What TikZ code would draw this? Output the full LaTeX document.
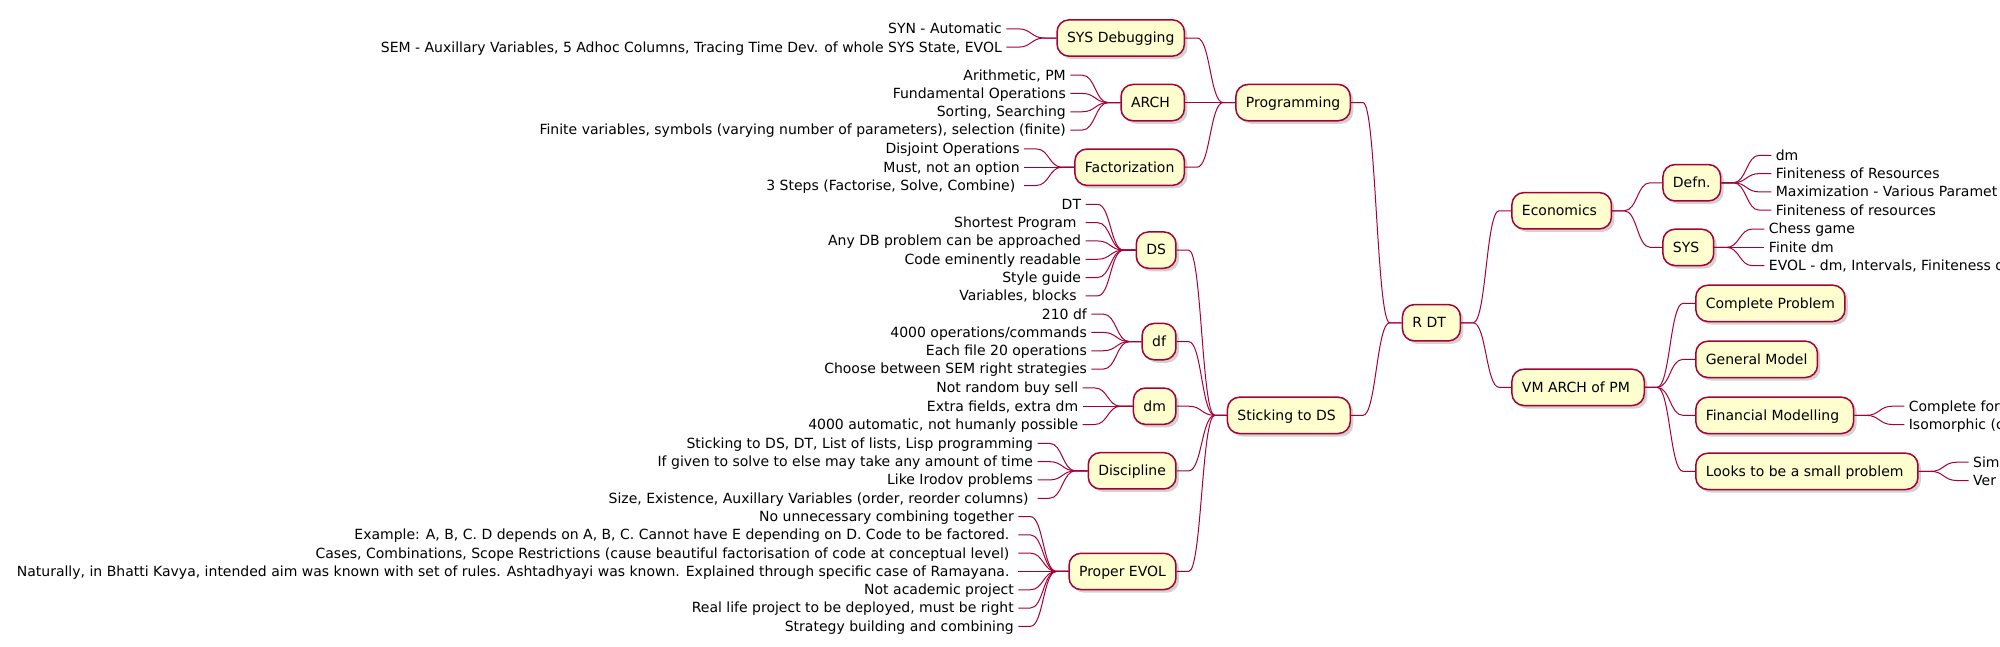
\documentclass[tikz,border=0pt]{standalone}
\usepackage{fontspec}
\setmainfont{DejaVu Sans}
\usetikzlibrary{shadows}
\definecolor{mmred}{HTML}{A80036}
\definecolor{mmyellow}{HTML}{FEFECE}

\begin{document}
\begin{tikzpicture}[x=1pt, y=-1pt,
	topic/.style={draw=mmred, fill=mmyellow, line width=1.5pt, rounded corners=12pt,
		font=\fontsize{14}{16}\selectfont, text height=13pt, text depth=3.3pt,
		inner xsep=10pt, inner ysep=10pt,
		drop shadow={shadow xshift=3pt, shadow yshift=-3pt, opacity=0.25, fill=black!70}},
	leaf/.style={font=\fontsize{14}{16}\selectfont, text height=13pt, text depth=3.3pt,
		inner xsep=4.3pt, inner ysep=0pt},
	branch/.style={draw=mmred, line width=1pt},
	toleft/.style={to path={-- ++(-12,0) .. controls +(-13,0) and +(13,0) .. ([xshift=12pt]\tikztotarget) -- (\tikztotarget)}},
	toright/.style={to path={-- ++(12,0) .. controls +(13,0) and +(-13,0) .. ([xshift=-12pt]\tikztotarget) -- (\tikztotarget)}}]
	\useasboundingbox (0,0) rectangle (2000,646);

	\node[topic, anchor=west] (rdt) at (1401.7,322.75) {R DT\ \null};

	\node[topic, anchor=east, xshift=-50.7pt] (prog) at (rdt.west |- 0,102.6) {Programming};
	\node[topic, anchor=east, xshift=-50.7pt] (stick) at (rdt.west |- 0,415.35) {Sticking to DS\ \null};
	\draw[branch] (rdt.west) to[toleft] (prog.east);
	\draw[branch] (rdt.west) to[toleft] (stick.east);

	\node[topic, anchor=east, xshift=-50pt] (sysdbg) at (prog.west |- 0,38) {SYS Debugging};
	\node[topic, anchor=east, xshift=-50pt] (arch) at (prog.west |- 0,102.6) {ARCH\ \null};
	\node[topic, anchor=east, xshift=-50pt] (fact) at (prog.west |- 0,167.2) {Factorization};
	\foreach \kid in {sysdbg, arch, fact}
		\draw[branch] (prog.west) to[toleft] (\kid.east);

	\node[topic, anchor=east, xshift=-50pt] (ds) at (stick.west |- 0,250.1) {DS};
	\node[topic, anchor=east, xshift=-50pt] (df) at (stick.west |- 0,341.6) {df};
	\node[topic, anchor=east, xshift=-50pt] (dm) at (stick.west |- 0,406.2) {dm};
	\node[topic, anchor=east, xshift=-50pt] (disc) at (stick.west |- 0,470.8) {Discipline};
	\node[topic, anchor=east, xshift=-50pt] (evol) at (stick.west |- 0,571.45) {Proper EVOL};
	\foreach \kid in {ds, df, dm, disc, evol}
		\draw[branch] (stick.west) to[toleft] (\kid.east);

	\foreach \txt [count=\i] in {{SYN - Automatic},
			{SEM - Auxillary Variables, 5 Adhoc Columns, Tracing Time Dev. of whole SYS State, EVOL}} {
		\pgfmathsetmacro\ly{38+(\i-1.5)*18.3}
		\node[leaf, anchor=east, xshift=-50pt] (sysdbg\i) at (sysdbg.west |- 0,\ly) {\txt};
		\draw[branch] (sysdbg.west) to[toleft] (sysdbg\i.east);
	}
	\foreach \txt [count=\i] in {{Arithmetic, PM}, {Fundamental Operations}, {Sorting, Searching},
			{Finite variables, symbols (varying number of parameters), selection (finite)}} {
		\pgfmathsetmacro\ly{102.6+(\i-2.5)*18.3}
		\node[leaf, anchor=east, xshift=-50pt] (arch\i) at (arch.west |- 0,\ly) {\txt};
		\draw[branch] (arch.west) to[toleft] (arch\i.east);
	}
	\foreach \txt [count=\i] in {{Disjoint Operations}, {Must, not an option},
			{3 Steps (Factorise, Solve, Combine)\ \null}} {
		\pgfmathsetmacro\ly{167.2+(\i-2)*18.3}
		\node[leaf, anchor=east, xshift=-50pt] (fact\i) at (fact.west |- 0,\ly) {\txt};
		\draw[branch] (fact.west) to[toleft] (fact\i.east);
	}
	\foreach \txt [count=\i] in {{DT}, {Shortest Program\ \null}, {Any DB problem can be approached},
			{Code eminently readable}, {Style guide}, {Variables, blocks\ \null}} {
		\pgfmathsetmacro\ly{250.1+(\i-3.5)*18.3}
		\node[leaf, anchor=east, xshift=-50pt] (ds\i) at (ds.west |- 0,\ly) {\txt};
		\draw[branch] (ds.west) to[toleft] (ds\i.east);
	}
	\foreach \txt [count=\i] in {{210 df}, {4000 operations/commands}, {Each file 20 operations},
			{Choose between SEM right strategies}} {
		\pgfmathsetmacro\ly{341.6+(\i-2.5)*18.3}
		\node[leaf, anchor=east, xshift=-50pt] (df\i) at (df.west |- 0,\ly) {\txt};
		\draw[branch] (df.west) to[toleft] (df\i.east);
	}
	\foreach \txt [count=\i] in {{Not random buy sell}, {Extra fields, extra dm},
			{4000 automatic, not humanly possible}} {
		\pgfmathsetmacro\ly{406.2+(\i-2)*18.3}
		\node[leaf, anchor=east, xshift=-50pt] (dm\i) at (dm.west |- 0,\ly) {\txt};
		\draw[branch] (dm.west) to[toleft] (dm\i.east);
	}
	\foreach \txt [count=\i] in {{Sticking to DS, DT, List of lists, Lisp programming},
			{If given to solve to else may take any amount of time}, {Like Irodov problems},
			{Size, Existence, Auxillary Variables (order, reorder columns)\ \null}} {
		\pgfmathsetmacro\ly{470.8+(\i-2.5)*18.3}
		\node[leaf, anchor=east, xshift=-50pt] (disc\i) at (disc.west |- 0,\ly) {\txt};
		\draw[branch] (disc.west) to[toleft] (disc\i.east);
	}
	\foreach \txt [count=\i] in {{No unnecessary combining together},
			{Example: A, B, C. D depends on A, B, C. Cannot have E depending on D. Code to be factored.\ \null},
			{Cases, Combinations, Scope Restrictions (cause beautiful factorisation of code at conceptual level)\ \null},
			{Naturally, in Bhatti Kavya, intended aim was known with set of rules. Ashtadhyayi was known. Explained through specific case of Ramayana.\ \null},
			{Not academic project}, {Real life project to be deployed, must be right},
			{Strategy building and combining}} {
		\pgfmathsetmacro\ly{571.45+(\i-4)*18.3}
		\node[leaf, anchor=east, xshift=-50pt] (evol\i) at (evol.west |- 0,\ly) {\txt};
		\draw[branch] (evol.west) to[toleft] (evol\i.east);
	}

	\node[topic, anchor=west, xshift=50pt] (econ) at (rdt.east |- 0,210.75) {Economics\ \null};
	\node[topic, anchor=west, xshift=50pt] (vm) at (rdt.east |- 0,387.35) {VM ARCH of PM\ \null};
	\draw[branch] (rdt.east) to[toright] (econ.west);
	\draw[branch] (rdt.east) to[toright] (vm.west);

	\node[topic, anchor=west, xshift=50pt] (defn) at (econ.east |- 0,182.75) {Defn.};
	\node[topic, anchor=west, xshift=50pt] (sys) at (econ.east |- 0,247.35) {SYS\ \null};
	\foreach \kid in {defn, sys}
		\draw[branch] (econ.east) to[toright] (\kid.west);

	\node[topic, anchor=west, xshift=50pt] (cprob) at (vm.east |- 0,303.35) {Complete Problem};
	\node[topic, anchor=west, xshift=50pt] (gmod) at (vm.east |- 0,359.35) {General Model};
	\node[topic, anchor=west, xshift=50pt] (fmod) at (vm.east |- 0,415.35) {Financial Modelling\ \null};
	\node[topic, anchor=west, xshift=50pt] (small) at (vm.east |- 0,471.35) {Looks to be a small problem\ \null};
	\foreach \kid in {cprob, gmod, fmod, small}
		\draw[branch] (vm.east) to[toright] (\kid.west);

	\foreach \txt [count=\i] in {{dm}, {Finiteness of Resources}, {Maximization - Various Paramet},
			{Finiteness of resources}} {
		\pgfmathsetmacro\ly{182.75+(\i-2.5)*18.3}
		\node[leaf, anchor=west, xshift=50pt] (defn\i) at (defn.east |- 0,\ly) {\txt};
		\draw[branch] (defn.east) to[toright] (defn\i.west);
	}
	\foreach \txt [count=\i] in {{Chess game}, {Finite dm}, {EVOL - dm, Intervals, Finiteness o}} {
		\pgfmathsetmacro\ly{247.35+(\i-2)*18.3}
		\node[leaf, anchor=west, xshift=50pt] (sys\i) at (sys.east |- 0,\ly) {\txt};
		\draw[branch] (sys.east) to[toright] (sys\i.west);
	}
	\foreach \txt [count=\i] in {{Complete for}, {Isomorphic (c}} {
		\pgfmathsetmacro\ly{415.35+(\i-1.5)*18.3}
		\node[leaf, anchor=west, xshift=50pt] (fmod\i) at (fmod.east |- 0,\ly) {\txt};
		\draw[branch] (fmod.east) to[toright] (fmod\i.west);
	}
	\foreach \txt [count=\i] in {{Sim}, {Ver}} {
		\pgfmathsetmacro\ly{471.35+(\i-1.5)*18.3}
		\node[leaf, anchor=west, xshift=50pt] (small\i) at (small.east |- 0,\ly) {\txt};
		\draw[branch] (small.east) to[toright] (small\i.west);
	}
\end{tikzpicture}
\end{document}
